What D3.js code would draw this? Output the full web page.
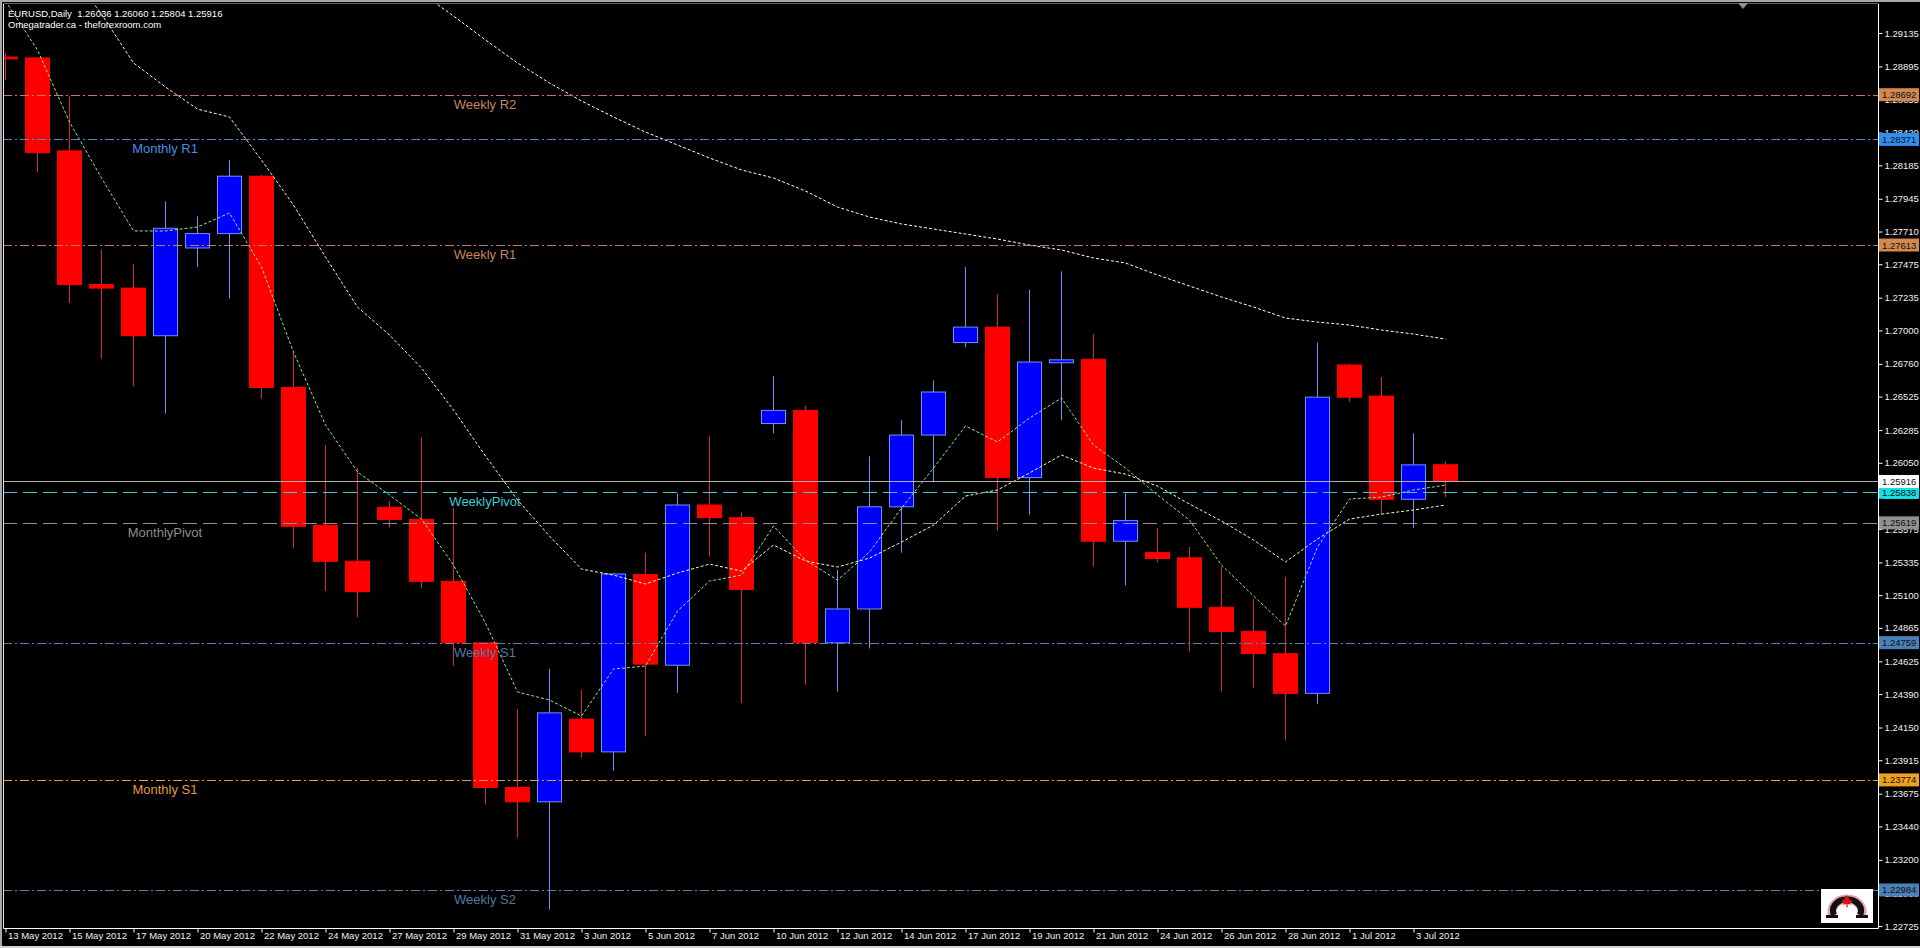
<!DOCTYPE html>
<html><head><meta charset="utf-8">
<script src="https://cdn.jsdelivr.net/npm/d3@7"></script>
<style>
html,body{margin:0;padding:0;background:#000;overflow:hidden}
svg{display:block}
text{font-family:"Liberation Sans",Arial,sans-serif}
</style></head><body>
<svg id="chart" width="1920" height="948"></svg>
<script>
// ---------------- DATA ----------------
const dates = ["13 May 2012","14 May 2012","15 May 2012","16 May 2012","17 May 2012","18 May 2012",
"20 May 2012","21 May 2012","22 May 2012","23 May 2012","24 May 2012","25 May 2012",
"27 May 2012","28 May 2012","29 May 2012","30 May 2012","31 May 2012","1 Jun 2012",
"3 Jun 2012","4 Jun 2012","5 Jun 2012","6 Jun 2012","7 Jun 2012","8 Jun 2012",
"10 Jun 2012","11 Jun 2012","12 Jun 2012","13 Jun 2012","14 Jun 2012","15 Jun 2012",
"17 Jun 2012","18 Jun 2012","19 Jun 2012","20 Jun 2012","21 Jun 2012","22 Jun 2012",
"24 Jun 2012","25 Jun 2012","26 Jun 2012","27 Jun 2012","28 Jun 2012","29 Jun 2012",
"1 Jul 2012","2 Jul 2012","3 Jul 2012","4 Jul 2012"];

const openP  = [1.28962,1.28956,1.28289,1.27329,1.27304,1.26962,1.27592,1.27695,1.28107,1.26591,1.25602,1.25343,
1.25730,1.25644,1.25199,1.24758,1.23720,1.23617,1.24210,1.23975,1.25248,1.24597,1.25747,1.25656,
1.26332,1.26426,1.24758,1.25001,1.25734,1.26249,1.26913,1.27024,1.25944,1.26768,1.26793,1.25487,
1.25405,1.25368,1.25013,1.24840,1.24680,1.24395,1.26752,1.26529,1.25788,1.26036];
const highP  = [1.28990,1.28956,1.28680,1.27580,1.27477,1.27926,1.27819,1.28223,1.28115,1.26838,1.26179,1.26014,
1.25775,1.26233,1.25726,1.24758,1.24284,1.24572,1.24420,1.25260,1.25405,1.25829,1.26241,1.25693,
1.26674,1.26459,1.25281,1.26097,1.26356,1.26641,1.27456,1.27259,1.27292,1.27424,1.26974,1.25829,
1.25582,1.25446,1.25306,1.25075,1.25232,1.26913,1.26760,1.26665,1.26262,1.26060];
const lowP   = [1.28796,1.28136,1.27197,1.26797,1.26599,1.26402,1.27456,1.27230,1.26509,1.25438,1.25129,1.24943,
1.25586,1.25149,1.24593,1.23596,1.23357,1.22842,1.23934,1.23839,1.24086,1.24399,1.25376,1.24325,
1.26262,1.24457,1.24408,1.24717,1.25405,1.25911,1.26880,1.25561,1.25677,1.26356,1.25306,1.25170,
1.25335,1.24696,1.24408,1.24436,1.24057,1.24317,1.26488,1.25677,1.25582,1.25804];
const closeP = [1.28950,1.28276,1.27329,1.27304,1.26962,1.27733,1.27695,1.28107,1.26591,1.25594,1.25343,1.25125,
1.25644,1.25199,1.24758,1.23720,1.23617,1.24255,1.23975,1.25252,1.24605,1.25747,1.25656,1.25141,
1.26426,1.24758,1.25001,1.25734,1.26249,1.26558,1.27024,1.25944,1.26773,1.26789,1.25487,1.25635,
1.25363,1.25013,1.24840,1.24680,1.24395,1.26521,1.26521,1.25788,1.26035,1.25916];

const maFast = [1.29365,1.29013,1.28496,1.28094,1.27714,1.27714,1.27742,1.27843,1.27455,1.26845,1.26321,1.25984,
1.25819,1.25646,1.25316,1.24900,1.24405,1.24347,1.24232,1.24570,1.24591,1.24986,1.25201,1.25244,
1.25596,1.25352,1.25208,1.25409,1.25725,1.26012,1.26314,1.26199,1.26371,1.26515,1.26178,1.26012,
1.25819,1.25639,1.25316,1.25094,1.24878,1.25445,1.25790,1.25804,1.25855,1.25890];
const maMid = [1.30197,1.29889,1.29580,1.29271,1.28920,1.28747,1.28589,1.28532,1.28223,1.27900,1.27527,1.27168,
1.26967,1.26730,1.26429,1.26099,1.25783,1.25524,1.25287,1.25244,1.25180,1.25259,1.25323,1.25273,
1.25460,1.25345,1.25302,1.25366,1.25481,1.25603,1.25811,1.25855,1.25977,1.26106,1.26012,1.25969,
1.25883,1.25754,1.25632,1.25496,1.25338,1.25503,1.25646,1.25682,1.25711,1.25747];
const maSlow = [null,null,null,null,null,null,null,null,null,null,null,1.29767,
1.29594,1.29422,1.29257,1.29085,1.28920,1.28776,1.28647,1.28532,1.28424,1.28331,1.28238,1.28152,
1.28094,1.28001,1.27886,1.27814,1.27764,1.27728,1.27692,1.27656,1.27613,1.27577,1.27520,1.27484,
1.27398,1.27319,1.27240,1.27168,1.27089,1.27060,1.27039,1.27003,1.26974,1.26938];

const levelNames  = ["Weekly R2","Monthly R1","Weekly R1","WeeklyPivot","MonthlyPivot","Weekly S1","Monthly S1","Weekly S2"];
const levelValues = [1.28692,1.28371,1.27613,1.25838,1.25619,1.24759,1.23774,1.22984];
const lastPrice = 1.25916;

const yTickLabels = ["1.29135","1.28895","1.28655","1.28420","1.28185","1.27945","1.27710","1.27475","1.27235",
"1.27000","1.26760","1.26525","1.26285","1.26050","1.25815","1.25575","1.25335","1.25100","1.24865",
"1.24625","1.24390","1.24150","1.23915","1.23675","1.23440","1.23200","1.22960","1.22725"];

const titleText = "EURUSD,Daily  1.26036 1.26060 1.25804 1.25916";
const subTitleText = "Omegatrader.ca - theforexroom.com";

// ---------------- STYLES ----------------
const levelStyle = {
  "Weekly R2":   {line:"#c07c5c", text:"#c4875c", box:"#d2884f", dash:"9,3,2,3", bar:15},
  "Monthly R1":  {line:"#4a8cd0", text:"#4a8ee0", box:"#2f8ef0", dash:"9,3,2,3", bar:5},
  "Weekly R1":   {line:"#c07c5c", text:"#c4875c", box:"#d2884f", dash:"9,3,2,3", bar:15},
  "WeeklyPivot": {line:"#40c8d0", text:"#3ccad0", box:"#10e0e8", dash:"14,6",    bar:15},
  "MonthlyPivot":{line:"#909090", text:"#8c8c8c", box:"#909090", dash:"14,6",    bar:5},
  "Weekly S1":   {line:"#5f7eb0", text:"#4f7aa4", box:"#4a80b8", dash:"9,3,2,3", bar:15},
  "Monthly S1":  {line:"#d89c4c", text:"#e09a40", box:"#f0a020", dash:"9,3,2,3", bar:5},
  "Weekly S2":   {line:"#5f7eb0", text:"#4f7aa4", box:"#4a80b8", dash:"9,3,2,3", bar:15}
};
const FS = 9.5; // small text size

// ---------------- LAYOUT ----------------
const W = 1920, H = 948;
const plot = {l:3, t:4, r:1878, b:928};
const svg = d3.select("#chart");

const x = d3.scaleLinear().domain([0, dates.length - 1]).range([5, 5 + 32 * (dates.length - 1)]);
const y = d3.scaleLinear().domain([1.29343, 1.22711]).range([plot.t, plot.b]);

svg.append("rect").attr("width", W).attr("height", H).attr("fill", "#000");
// window frame
svg.append("rect").attr("x",0).attr("y",0).attr("width",W).attr("height",2).attr("fill","#a8a8a8");
svg.append("rect").attr("x",0).attr("y",0).attr("width",2).attr("height",H).attr("fill","#a8a8a8");
svg.append("rect").attr("x",0).attr("y",H-2).attr("width",W).attr("height",2).attr("fill","#d0d0d0");

svg.append("defs").append("clipPath").attr("id","clip")
  .append("rect").attr("x",plot.l).attr("y",plot.t).attr("width",plot.r-plot.l).attr("height",plot.b-plot.t);

const g = svg.append("g").attr("clip-path","url(#clip)");

const data = dates.map((d,i)=>({i, d, o:openP[i], h:highP[i], l:lowP[i], c:closeP[i]}));

// candles
const cg = g.append("g");
data.forEach(k=>{
  const up = k.c >= k.o;
  const cx = Math.round(x(k.i)) + 0.5;
  cg.append("line").attr("x1",cx).attr("x2",cx)
    .attr("y1",y(k.h)).attr("y2",y(k.l))
    .attr("stroke", up ? "#6f8fff" : "#d82828").attr("stroke-width",1);
  const top = y(Math.max(k.o,k.c)), bot = y(Math.min(k.o,k.c));
  cg.append("rect").attr("x",cx-12).attr("width",24)
    .attr("y",top).attr("height",Math.max(1.5,bot-top))
    .attr("fill", up ? "#0000ff" : "#ff0000")
    .attr("stroke", up ? "#6f8fff" : "#ff0000").attr("stroke-width",1);
});

// moving averages
function maLine(arr, color){
  const ln = d3.line().defined(d=>d!=null).x((d,i)=>x(i)+0.5).y(d=>y(d));
  g.append("path").datum(arr).attr("d",ln).attr("fill","none")
    .attr("stroke",color).attr("stroke-width",1).attr("stroke-dasharray","3,2");
}
maLine(maSlow, "#ffffff");
maLine(maMid, "#fafab4");
maLine(maFast, "#8ee88e");

// level lines
levelNames.forEach((n,i)=>{
  const s = levelStyle[n];
  const yy = Math.round(y(levelValues[i])) + 0.5;
  g.append("line").attr("x1",plot.l).attr("x2",plot.r).attr("y1",yy).attr("y2",yy)
    .attr("stroke",s.line).attr("stroke-width",1).attr("stroke-dasharray",s.dash);
  g.append("text").attr("x",x(s.bar)).attr("y",yy+13).attr("text-anchor","middle")
    .attr("fill",s.text).attr("font-size",13).text(n);
});
// last price line
{
  const yy = Math.round(y(lastPrice)) + 0.5;
  g.append("line").attr("x1",plot.l).attr("x2",plot.r).attr("y1",yy).attr("y2",yy)
    .attr("stroke","#b0b0b0").attr("stroke-width",1);
}

// title
svg.append("text").attr("x",8).attr("y",17).attr("fill","#ffffff").attr("font-size",FS).attr("xml:space","preserve").text(titleText);
svg.append("text").attr("x",8).attr("y",28).attr("fill","#ffffff").attr("font-size",FS).text(subTitleText);

// plot frame
svg.append("line").attr("x1",plot.r+0.5).attr("x2",plot.r+0.5).attr("y1",plot.t).attr("y2",plot.b+0.5).attr("stroke","#fff");
svg.append("line").attr("x1",plot.l+0.5).attr("x2",plot.r+0.5).attr("y1",plot.b+0.5).attr("y2",plot.b+0.5).attr("stroke","#fff");
svg.append("line").attr("x1",plot.l+0.5).attr("x2",plot.l+0.5).attr("y1",plot.t).attr("y2",plot.b+0.5).attr("stroke","#e8e8e8");
svg.append("line").attr("x1",plot.l).attr("x2",plot.r+0.5).attr("y1",plot.t-0.5).attr("y2",plot.t-0.5).attr("stroke","#606060");

// right axis
const yAxis = d3.axisRight(y).tickValues(yTickLabels.map(Number)).tickFormat(d3.format(".5f")).tickSize(4).tickPadding(2);
const ya = svg.append("g").attr("transform",`translate(${plot.r+0.5},0)`).call(yAxis);
ya.select(".domain").remove();
ya.selectAll("line").attr("stroke","#fff");
ya.selectAll("text").attr("fill","#f0f0f0").attr("font-size",FS).attr("font-family","'Liberation Sans',Arial,sans-serif");

// bottom axis
const labelIdx = dates.map((d,i)=>i).filter(i=>i%2===0);
const xAxis = d3.axisBottom(x).tickValues(labelIdx).tickFormat(i=>dates[i]).tickSize(4).tickPadding(2);
const xa = svg.append("g").attr("transform",`translate(0.5,${plot.b+0.5})`).call(xAxis);
xa.select(".domain").remove();
xa.selectAll("line").attr("stroke","#fff");
xa.selectAll("text").attr("fill","#f0f0f0").attr("font-size",FS).attr("text-anchor","start")
  .attr("font-family","'Liberation Sans',Arial,sans-serif").attr("dx",2).attr("dy","0.5em");

// price boxes on right
const boxes = levelNames.map((n,i)=>({v:levelValues[i], fill:levelStyle[n].box}));
boxes.push({v:lastPrice, fill:"#ffffff"});
boxes.forEach(b=>{
  const yy = y(b.v);
  svg.append("rect").attr("x",plot.r+1).attr("y",yy-6.5).attr("width",40).attr("height",13).attr("fill",b.fill);
  svg.append("text").attr("x",plot.r+4).attr("y",yy+3.5).attr("fill","#101010").attr("font-size",FS).text(d3.format(".5f")(b.v));
});

// chart shift marker
svg.append("path").attr("d","M1738,3 L1748,3 L1743,9 Z").attr("fill","#909090");

// logo
const lg = svg.append("g");
lg.append("rect").attr("x",1821).attr("y",889).attr("width",52).attr("height",34).attr("fill","#fff");
lg.append("path").attr("d","M1833,916 A15,12.5 0 1,1 1861,916").attr("fill","none").attr("stroke","#e8a0a8").attr("stroke-width",9);
lg.append("path").attr("d","M1834,915 A14,11.5 0 1,1 1860,915").attr("fill","none").attr("stroke","#111").attr("stroke-width",6);
lg.append("rect").attr("x",1826).attr("y",915).attr("width",12).attr("height",3).attr("fill","#111");
lg.append("rect").attr("x",1856).attr("y",915).attr("width",12).attr("height",3).attr("fill","#111");
lg.append("path").attr("transform","translate(1840.5,895) scale(0.65)")
  .attr("d","M10,0 L12,4 L14,3 L13,8 L17,6 L16,9 L19,10 L15,13 L16,15 L11,14 L11,19 L9,19 L9,14 L4,15 L5,13 L1,10 L4,9 L3,6 L7,8 L6,3 L8,4 Z")
  .attr("fill","#e01010");
</script>
</body></html>
